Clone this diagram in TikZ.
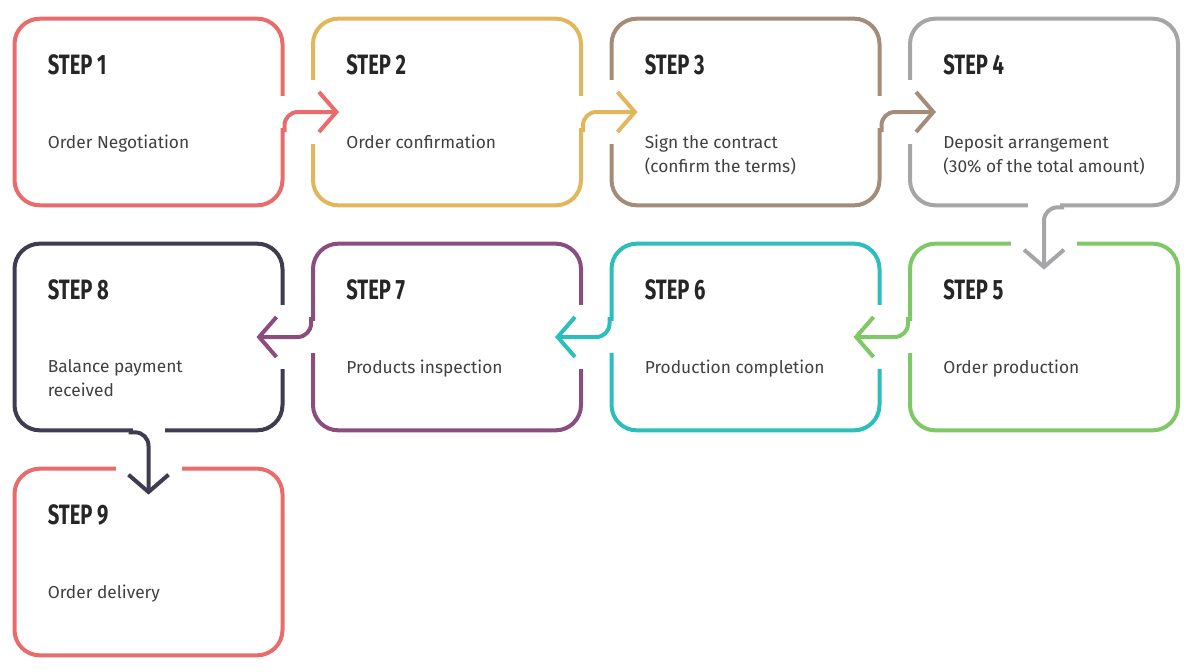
\documentclass[tikz,border=0pt]{standalone}
\usepackage{fontspec}
\setmainfont{Fira Sans}
\newfontfamily\stepfont[FakeStretch=0.72]{Fira Sans}
\usetikzlibrary{calc,arrows.meta}
\definecolor{cred}{HTML}{EA6B6B}
\definecolor{cgold}{HTML}{E2B65B}
\definecolor{cbrown}{HTML}{A48C7B}
\definecolor{cgrey}{HTML}{A6A6A8}
\definecolor{cgreen}{HTML}{7FC868}
\definecolor{cteal}{HTML}{2CBDBD}
\definecolor{cpurple}{HTML}{8B4D7F}
\definecolor{cdark}{HTML}{3E3C4F}
\tikzset{
  stepbox/.style={draw=#1, line width=3pt, rounded corners=19pt,
    minimum width=201pt, minimum height=140pt, inner sep=0pt},
  steptitle/.style={anchor=base west, inner sep=0pt,
    font=\stepfont\bfseries\fontsize{21}{21}\selectfont, text=black!85},
  steptext/.style={anchor=north west, inner sep=0pt, align=left,
    font=\fontsize{13}{18}\selectfont, text=black!75},
  gap/.style={fill=white, draw=none},
  steparrow/.style={draw=#1, line width=3pt, rounded corners=10pt,
    -{Straight Barb[length=13pt,width=30pt,line width=3pt]}}
}
\begin{document}
\begin{tikzpicture}[x=0.75pt,y=-0.75pt]
  \useasboundingbox (0,0) rectangle (1195,671);

  % boxes
  \node[stepbox=cred]    (s1) at (148.5,112) {};
  \node[stepbox=cgold]   (s2) at (447,112) {};
  \node[stepbox=cbrown]  (s3) at (745.5,112) {};
  \node[stepbox=cgrey]   (s4) at (1044,112) {};
  \node[stepbox=cgreen]  (s5) at (1044,337) {};
  \node[stepbox=cteal]   (s6) at (745.5,337) {};
  \node[stepbox=cpurple] (s7) at (447,337) {};
  \node[stepbox=cdark]   (s8) at (148.5,337) {};
  \node[stepbox=cred]    (s9) at (148.5,562) {};

  % texts
  \foreach \i/\txt in {1/Order Negotiation, 2/Order confirmation,
      3/{Sign the contract\\(confirm the terms)},
      4/{Deposit arrangement\\(30\% of the total amount)},
      5/Order production, 6/Production completion, 7/Products inspection,
      8/{Balance payment\\received}, 9/Order delivery}{
    \node[steptitle] (t\i) at ($(s\i.north west)+(35,58)$) {STEP \i};
    \node[steptext] (d\i) at ($(s\i.north west)+(35,118)$) {\txt};
  }

  % gaps in the borders
  \foreach \a/\b in {1/2,2/3,3/4}{
    \fill[gap] ($(s\a.east)+(-6,-16)$) rectangle ($(s\a.east)+(6,16)$);
    \fill[gap] ($(s\b.west)+(-6,-32)$) rectangle ($(s\b.west)+(6,32)$);
  }
  \foreach \a/\b in {5/6,6/7,7/8}{
    \fill[gap] ($(s\a.west)+(-6,-16)$) rectangle ($(s\a.west)+(6,16)$);
    \fill[gap] ($(s\b.east)+(-6,-32)$) rectangle ($(s\b.east)+(6,32)$);
  }
  \foreach \a/\b in {4/5,8/9}{
    \fill[gap] ($(s\a.south)+(-16,-6)$) rectangle ($(s\a.south)+(16,6)$);
    \fill[gap] ($(s\b.north)+(-33,-6)$) rectangle ($(s\b.north)+(33,6)$);
  }

  % arrows
  \draw[steparrow=cred]    ($(s1.east)+(0,20)$) -- (s1.east) -- ($(s2.west)+(28,0)$);
  \draw[steparrow=cgold]   ($(s2.east)+(0,20)$) -- (s2.east) -- ($(s3.west)+(28,0)$);
  \draw[steparrow=cbrown]  ($(s3.east)+(0,20)$) -- (s3.east) -- ($(s4.west)+(28,0)$);
  \draw[steparrow=cgrey]   ($(s4.south)+(20,0)$) -- (s4.south) -- ($(s5.north)+(0,28)$);
  \draw[steparrow=cgreen]  ($(s5.west)+(0,-20)$) -- (s5.west) -- ($(s6.east)+(-28,0)$);
  \draw[steparrow=cteal]   ($(s6.west)+(0,-20)$) -- (s6.west) -- ($(s7.east)+(-28,0)$);
  \draw[steparrow=cpurple] ($(s7.west)+(0,-20)$) -- (s7.west) -- ($(s8.east)+(-28,0)$);
  \draw[steparrow=cdark]   ($(s8.south)+(-20,0)$) -- (s8.south) -- ($(s9.north)+(0,28)$);
\end{tikzpicture}
\end{document}
